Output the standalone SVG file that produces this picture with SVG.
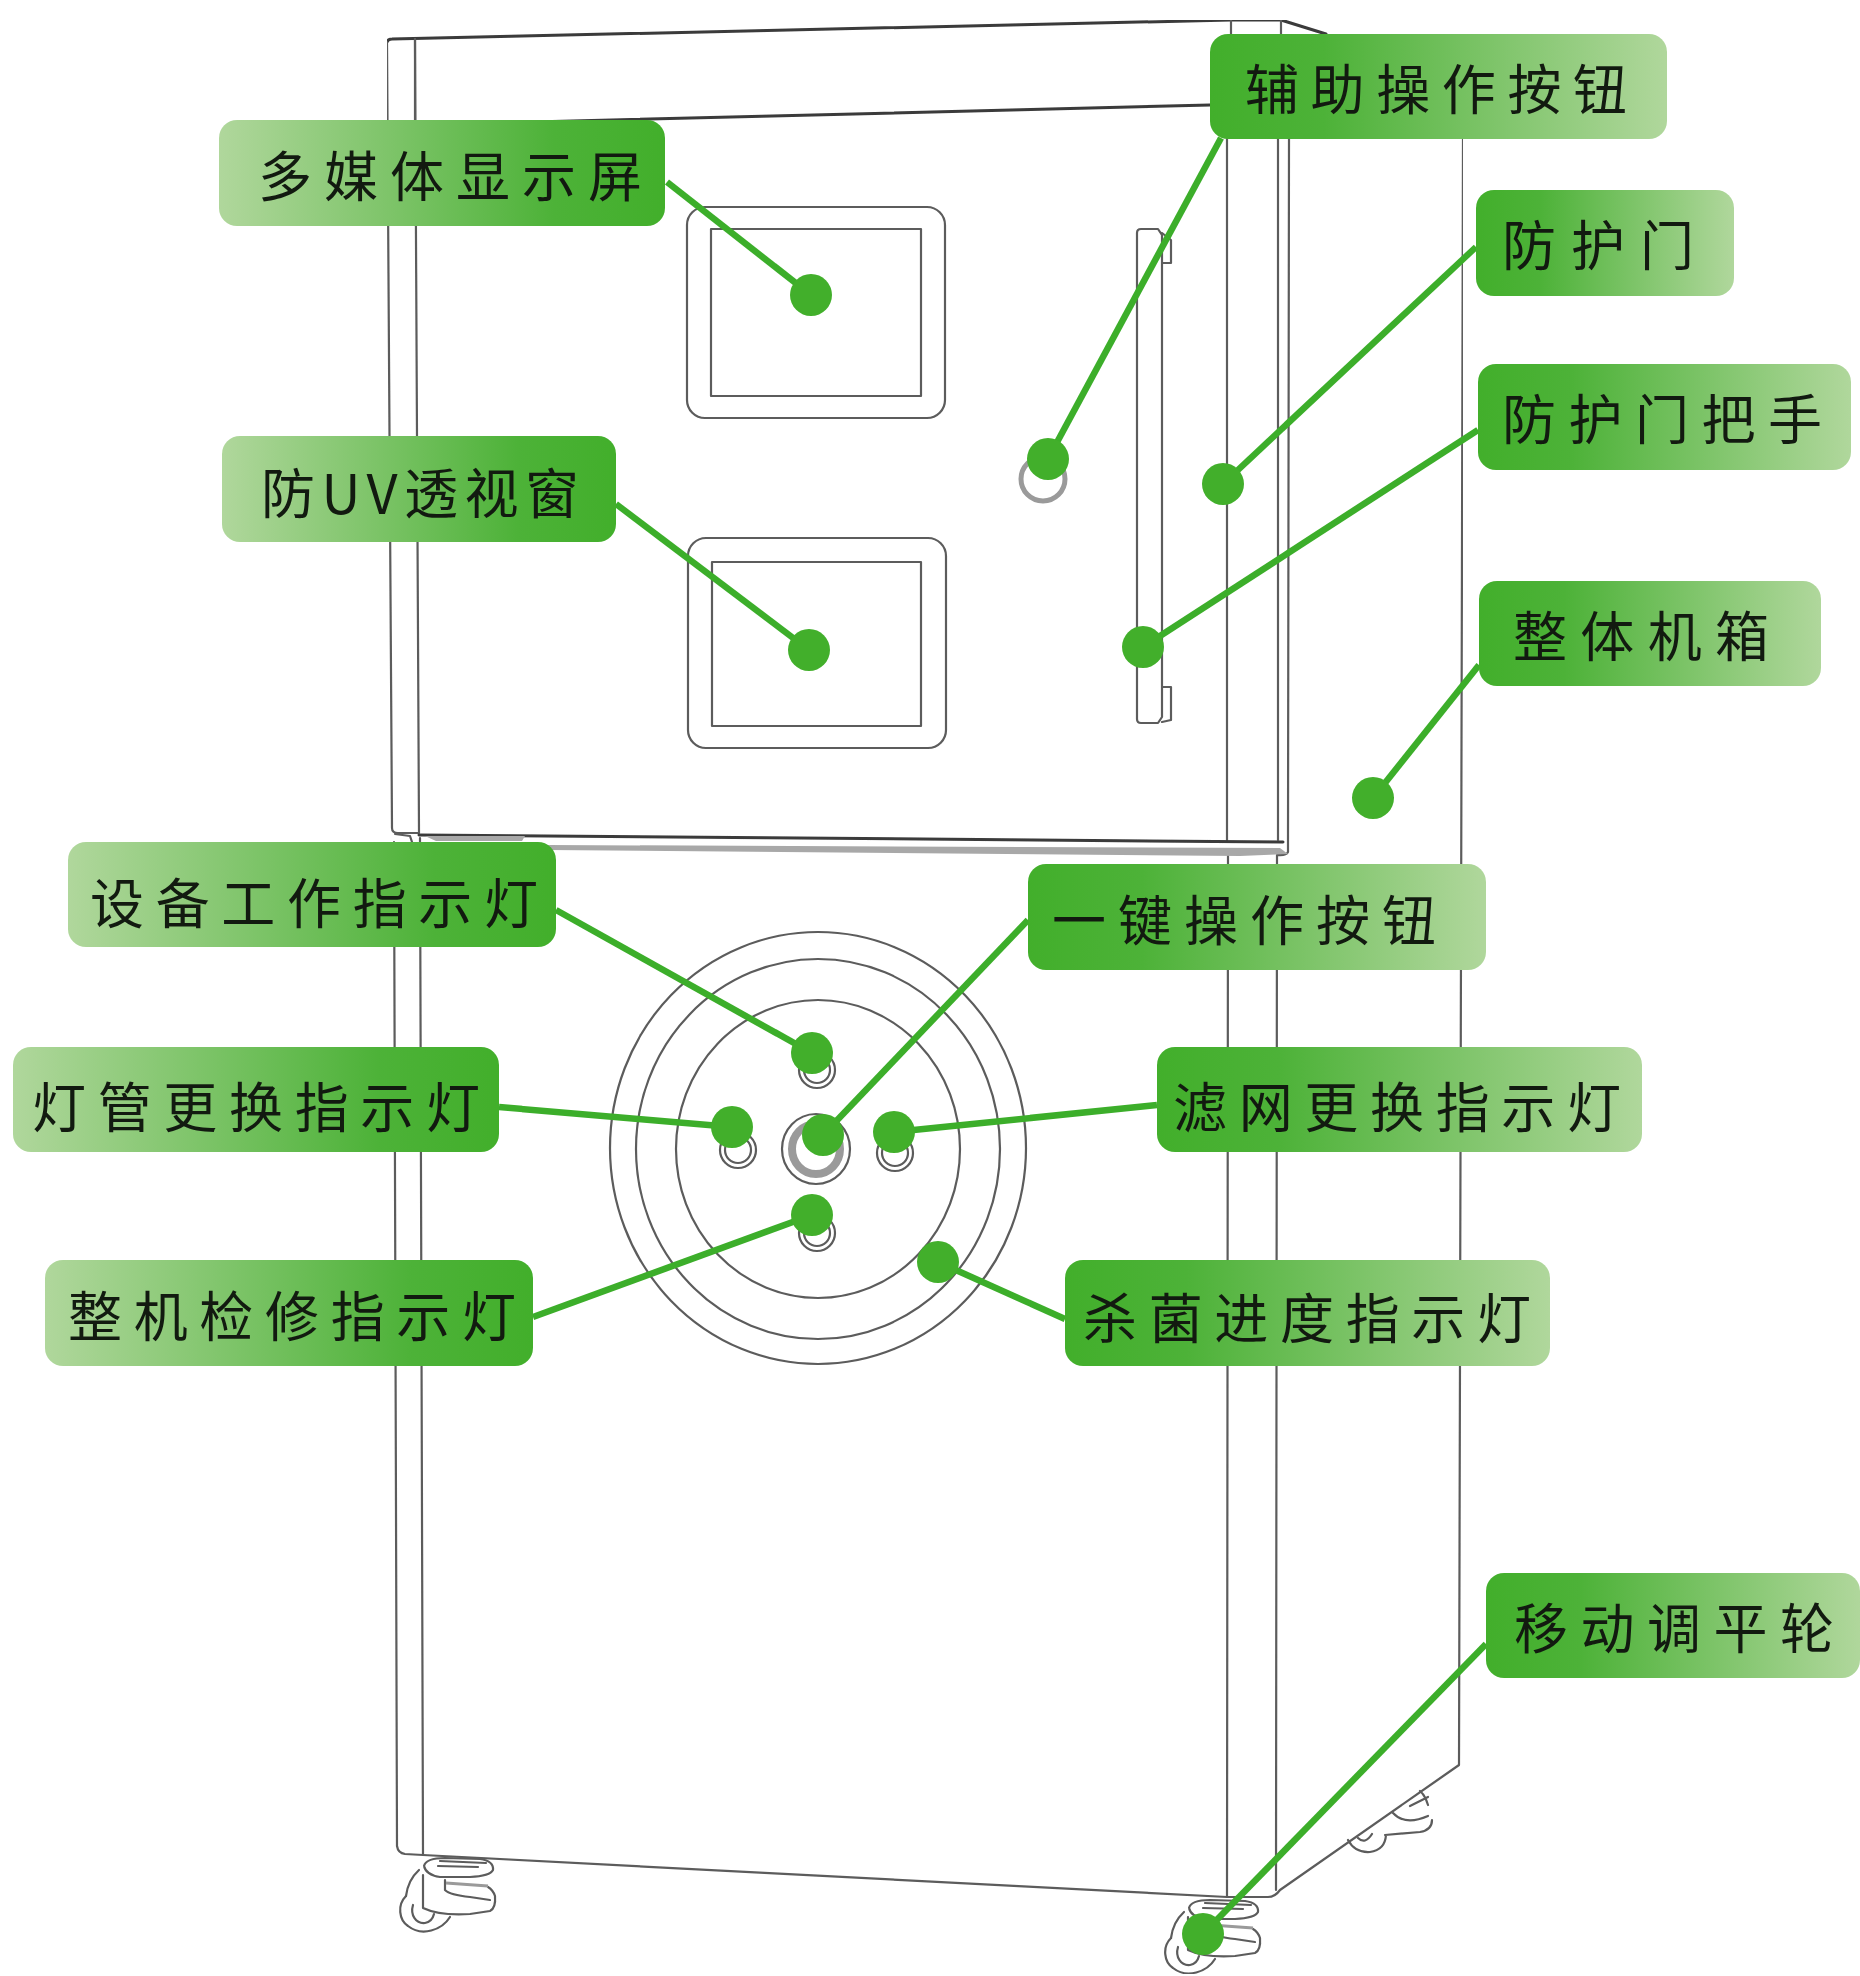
<svg xmlns="http://www.w3.org/2000/svg" width="1860" height="1976" viewBox="0 0 1860 1976">
<style>
.d{fill:none;stroke:#5c5c5c;stroke-width:2.2;stroke-linecap:round;stroke-linejoin:round}
.h{stroke:#3a3a3a;stroke-width:3}
.g{fill:none;stroke:#9a9a9a;stroke-width:5}
.c{fill:none;stroke:#3cae2a;stroke-width:6.5}
.p{fill:#42af2b}
.l{font-family:"Noto Sans CJK SC","Noto Sans",sans-serif;font-size:54px;fill:#121a10;dominant-baseline:central;lengthAdjust:spacing}
.r{fill:url(#dl)}
.s{fill:url(#ld)}
</style>
<defs>
<linearGradient id="dl" x1="0" x2="1" y1="0" y2="0"><stop offset="0" stop-color="#42af2b"/><stop offset=".25" stop-color="#4db238"/><stop offset="1" stop-color="#b0d79c"/></linearGradient>
<linearGradient id="ld" x1="0" x2="1" y1="0" y2="0"><stop offset="0" stop-color="#b0d79c"/><stop offset=".75" stop-color="#4db238"/><stop offset="1" stop-color="#42af2b"/></linearGradient>
<filter id="b" x="0" y="0" width="1" height="1" filterUnits="objectBoundingBox"><feGaussianBlur stdDeviation=".7"/></filter>
<g id="caster">
<path class="d" d="M424,1866Q426,1858 445,1858L480,1859Q494,1861 493,1870Q490,1876 470,1877L440,1877Q426,1875 424,1866"/>
<path class="d" d="M440,1861L486,1863M438,1866L478,1867"/>
<path class="d" d="M419,1870Q408,1880 406,1896M423,1875L423,1908Q440,1916 470,1914L490,1911Q496,1908 495,1896Q493,1890 488,1887"/>
<path class="d" d="M445,1880L445,1890Q450,1895 470,1897L490,1900"/>
<path class="g" style="stroke-width:3" d="M446,1883L488,1886"/>
<path class="d" d="M406,1896C397,1905 399,1920 408,1926C422,1937 442,1930 450,1917"/>
<path class="d" d="M413,1905C410,1915 416,1924 425,1923C431,1922 433,1918 434,1914"/>
</g>
</defs>
<rect width="1860" height="1976" fill="#fff"/>
<g id="cabinet" filter="url(#b)">
<path class="d h" d="M387,42Q388,39 392,39L1231,20L1281,20L1326,34"/>
<path class="d" d="M415,39L415,120M1231,20L1231,34M1281,20L1281,34"/>
<path class="d h" d="M415,125L1210,105"/>
<path class="d" d="M387,42L392,828Q392,833 398,833L419,833M415,39L419,833"/>
<path class="d" d="M394,842L397,1846Q398,1853 405,1854L423,1855M420,838L423,1855"/>
<path class="d" d="M423,1855L1227,1897L1268,1897Q1275,1897 1280,1890L1459,1765L1463,139"/>
<path class="d" d="M1227,139L1227,840M1278,139L1278,840M1289,139L1288,840M1288,840L1288,852Q1286,856 1277,855M1228,852L1227,1897M1277,855L1276,1890"/>
<path class="d h" d="M419,835L1283,842"/>
<path d="M548,845L1280,848L1288,854L1240,856L548,850Z" fill="#a8a8a8"/>
<path d="M425,836L525,836L522,841L436,841Z" fill="#a8a8a8"/>
<path class="d" d="M395,834L410,836L412,842"/>
<rect class="d" x="687" y="207" width="258" height="211" rx="18"/>
<rect class="d" x="711" y="229" width="210" height="167"/>
<rect class="d" x="688" y="538" width="258" height="210" rx="18"/>
<rect class="d" x="712" y="562" width="209" height="164"/>
<path class="d" d="M1137,233Q1137,229 1141,229L1158,229L1162,235L1162,717L1158,723L1141,723Q1137,723 1137,719Z"/>
<path class="d" d="M1162,233L1171,240L1171,263L1162,263M1162,687L1171,687L1171,720L1162,722"/>
<circle class="g" cx="1043" cy="479" r="22"/>
<ellipse class="d" cx="818" cy="1148" rx="208" ry="216"/>
<ellipse class="d" cx="818" cy="1149" rx="182" ry="190"/>
<ellipse class="d" cx="818" cy="1149" rx="142" ry="149"/>
<ellipse class="d" cx="816" cy="1149" rx="34" ry="35"/>
<ellipse class="g" cx="816" cy="1149" rx="24" ry="25" style="stroke-width:8"/>
<g id="sw"><circle class="d" cx="817" cy="1070" r="18"/><circle class="d" cx="817" cy="1070" r="13"/></g>
<circle class="d" cx="738" cy="1150" r="18"/><circle class="d" cx="738" cy="1150" r="13"/>
<circle class="d" cx="895" cy="1153" r="18"/><circle class="d" cx="895" cy="1153" r="13"/>
<circle class="d" cx="817" cy="1233" r="18"/><circle class="d" cx="817" cy="1233" r="13"/>
<use href="#caster"/>
<use href="#caster" transform="translate(765,42)"/>
<path class="d" d="M1393,1813Q1405,1826 1428,1816M1432,1820Q1432,1830 1420,1832L1385,1835M1428,1805Q1425,1795 1420,1791M1348,1840Q1355,1853 1370,1852Q1385,1850 1386,1835M1358,1838Q1365,1845 1372,1834M1410,1806L1428,1797"/>
</g>
<g id="connectors">
<path class="c" d="M667,182L811,295"/><circle class="p" cx="811" cy="295" r="21"/>
<path class="c" d="M616,504L809,650"/><circle class="p" cx="809" cy="650" r="21"/>
<path class="c" d="M1221,138L1048,459"/><circle class="p" cx="1048" cy="459" r="21"/>
<path class="c" d="M1476,247L1223,484"/><circle class="p" cx="1223" cy="484" r="21"/>
<path class="c" d="M1478,430L1143,647"/><circle class="p" cx="1143" cy="647" r="21"/>
<path class="c" d="M1479,665L1373,798"/><circle class="p" cx="1373" cy="798" r="21"/>
<path class="c" d="M556,910L812,1053"/><circle class="p" cx="812" cy="1053" r="21"/>
<path class="c" d="M1028,920L823,1135"/><circle class="p" cx="823" cy="1135" r="21"/>
<path class="c" d="M499,1107L732,1127"/><circle class="p" cx="732" cy="1127" r="21"/>
<path class="c" d="M1157,1105L894,1132"/><circle class="p" cx="894" cy="1132" r="21"/>
<path class="c" d="M533,1317L812,1215"/><circle class="p" cx="812" cy="1215" r="21"/>
<path class="c" d="M1065,1319L938,1262"/><circle class="p" cx="938" cy="1262" r="21"/>
<path class="c" d="M1486,1644L1203,1934"/><circle class="p" cx="1203" cy="1934" r="21"/>
</g>
<g id="n1"><rect class="s" x="219" y="120" width="446" height="106" rx="18"/><text class="l" x="258" y="173" textLength="384">多媒体显示屏</text></g>
<g id="n2"><rect class="s" x="222" y="436" width="394" height="106" rx="18"/><text class="l" x="261" y="490" textLength="318">防UV透视窗</text></g>
<g id="n3"><rect class="r" x="1210" y="34" width="457" height="105" rx="18"/><text class="l" x="1245" y="86" textLength="382">辅助操作按钮</text></g>
<g id="n4"><rect class="r" x="1476" y="190" width="258" height="106" rx="18"/><text class="l" x="1502" y="242" textLength="192">防护门</text></g>
<g id="n5"><rect class="r" x="1478" y="364" width="373" height="106" rx="18"/><text class="l" x="1502" y="416" textLength="320">防护门把手</text></g>
<g id="n6"><rect class="r" x="1479" y="581" width="342" height="105" rx="18"/><text class="l" x="1513" y="633" textLength="256">整体机箱</text></g>
<g id="n7"><rect class="s" x="68" y="842" width="488" height="105" rx="18"/><text class="l" x="90" y="900" textLength="448">设备工作指示灯</text></g>
<g id="n8"><rect class="r" x="1028" y="864" width="458" height="106" rx="18"/><text class="l" x="1052" y="917" textLength="384">一键操作按钮</text></g>
<g id="n9"><rect class="s" x="13" y="1047" width="486" height="105" rx="18"/><text class="l" x="32" y="1104" textLength="448">灯管更换指示灯</text></g>
<g id="n10"><rect class="r" x="1157" y="1047" width="485" height="105" rx="18"/><text class="l" x="1173" y="1104" textLength="448">滤网更换指示灯</text></g>
<g id="n11"><rect class="s" x="45" y="1260" width="488" height="106" rx="18"/><text class="l" x="68" y="1313" textLength="448">整机检修指示灯</text></g>
<g id="n12"><rect class="r" x="1065" y="1260" width="485" height="106" rx="18"/><text class="l" x="1083" y="1315" textLength="448">杀菌进度指示灯</text></g>
<g id="n13"><rect class="r" x="1486" y="1573" width="374" height="105" rx="18"/><text class="l" x="1514" y="1625" textLength="320">移动调平轮</text></g>
</svg>
